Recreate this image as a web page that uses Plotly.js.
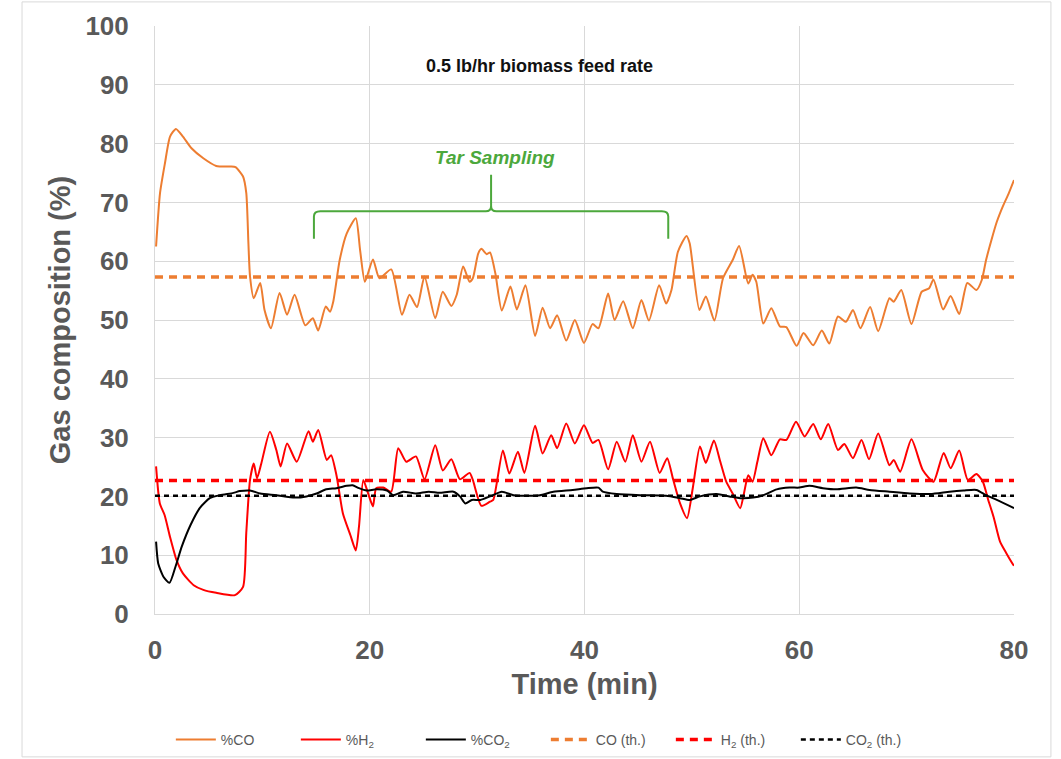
<!DOCTYPE html>
<html>
<head>
<meta charset="utf-8">
<script src="https://cdn.plot.ly/plotly-3.0.1.min.js"></script>
<style>html,body{margin:0;padding:0;background:#fff;}#chart{width:1061px;height:759px;}</style>
</head>
<body>
<div id="chart"></div>
<script>
// Time (min) and composition (%)
const coTime = [0.1,0.47,0.93,1.4,1.95,2.6,3.4,4.5,5.7,7.0,7.5,8.2,8.5,8.7,8.85,9.2,9.8,10.2,10.8,11.6,12.3,13.0,14.0,14.7,15.2,15.9,16.3,16.6,17.2,17.85,18.7,19.1,19.55,20.3,20.9,22.0,23.0,23.7,24.4,25.1,26.1,26.8,27.6,28.1,28.7,29.3,29.6,30.1,30.4,30.9,31.2,31.7,32.3,33.1,33.7,34.5,35.4,36.1,36.8,37.45,38.3,39.1,39.95,40.75,41.3,42.2,42.8,43.6,44.5,45.3,46.0,46.95,47.6,48.1,48.7,49.5,49.8,50.7,51.3,52.1,52.9,53.8,54.4,55.25,55.65,56.0,56.65,57.4,58.2,58.8,59.75,60.4,61.3,62.1,62.8,63.6,64.35,65.0,65.7,66.6,67.35,68.4,68.8,69.5,70.45,71.4,72.1,72.5,73.4,74.1,74.9,75.65,76.5,77.0,77.4,77.9,78.4,79.0,79.5,80];
const coValues = [62.5,71.6,76.7,81.2,82.5,81.2,79.2,77.5,76.2,76.1,76.0,74.4,71.6,63,57.4,53.7,56.3,51.7,48.6,54.6,50.9,54.3,49.1,50.3,48.2,52.3,51.4,53.1,60.2,64.7,67.3,61.9,56.5,60.3,57.1,58.6,50.9,54.3,52.2,57.4,50.3,54.8,52.4,54.3,59.1,56.5,57.1,61.3,62.1,61.2,61.5,57.9,51.6,55.7,51.8,55.9,47.3,52.1,48.6,50.8,46.5,50,46.1,49.3,48.6,54.5,50,53.2,48.6,53.4,49.9,55.9,52.8,55.1,61.6,64.3,63.0,51.7,54.0,49.9,57.1,60.2,62.6,56.2,57.7,56.5,49.4,52.0,48.9,48.8,45.6,47.8,45.7,48.2,46.0,50.6,49.7,51.7,48.6,52.2,48.1,53.7,53.1,55.1,49.3,54.8,55.4,56.9,51.8,54.1,51.0,56.3,55.1,56.8,60.2,63.6,66.7,69.5,71.5,73.8];

const h2Time = [0.1,0.45,0.9,1.4,2.0,2.6,3.6,4.5,5.7,7.45,8.2,8.5,8.85,9.2,9.5,9.9,10.7,11.3,11.7,12.3,13.2,14.3,14.7,15.2,16.0,16.4,16.9,17.5,18.2,18.7,19.0,19.4,19.85,20.3,20.6,21.25,22.0,22.65,23.4,24.3,25.1,26.1,26.8,27.6,28.4,29.3,29.6,30.4,31.2,31.5,32.4,33.0,33.8,34.4,35.4,36.1,36.9,37.45,38.3,39.1,39.95,40.75,41.3,42.2,43.0,43.8,44.5,45.3,46.1,47.0,47.7,48.25,48.9,49.55,50.1,50.75,51.3,52.05,52.6,53.2,53.8,54.5,54.85,55.25,55.65,56.1,56.65,57.4,58.2,58.8,59.7,60.5,61.3,62.0,62.7,63.6,64.2,65.0,65.8,66.5,67.35,68.4,68.8,69.4,70.45,71.5,72.5,73.45,74.1,74.9,75.7,76.5,77.1,77.6,78.1,78.7,79.3,79.85,80];
const h2Values = [25.1,18.8,16.8,13.1,9.2,6.9,4.9,4.1,3.6,3.2,4.6,13.8,22.8,25.6,23.1,25.6,31.0,27.9,25.1,29.0,25.9,31.1,29.3,31.3,26.2,27.0,23.6,17.1,13.4,10.8,14.9,22.8,20.5,18.3,21.4,21.5,20.8,28.2,25.9,26.8,22.9,28.7,24.4,26.3,22.9,24.0,22.8,18.4,19.1,19.4,27.8,23.9,27.6,24.0,32.0,27.3,30.4,28.2,32.4,29.0,32.1,29.1,29.6,24.6,29.3,25.9,30.4,25.9,29.3,24.0,26.5,22.9,18.8,16.3,21.6,28.5,25.7,29.5,26.2,22.5,20.5,18.0,20.5,23.6,22.5,25.9,29.9,27.0,29.7,29.6,32.7,30.2,32.3,29.7,32.3,27.9,28.9,26.5,29.6,26.3,30.7,25.3,26.2,24.2,29.7,24.5,22.5,27.4,24.8,27.8,22.8,23.8,22.5,19.4,16.5,12.3,10.3,8.6,8.2];

const co2Time = [0.1,0.3,0.8,1.35,1.9,2.5,3.3,4.2,5.1,6.05,7.3,7.9,8.85,9.8,11.3,13.0,14.1,15.05,15.95,16.9,17.85,18.4,19.0,19.7,20.6,21.6,22.2,23.1,24.3,25.5,26.5,27.8,28.4,28.9,29.5,30.3,31.2,32.3,33.4,34.6,35.85,37.1,38.9,40.2,41.3,41.7,43.0,45.2,47.6,48.9,49.8,50.75,52.3,53.5,54.5,55.7,56.65,57.9,59.1,60.0,60.95,62.2,63.45,65.3,66.55,68.4,70.3,72.2,74.0,75.3,76.5,77.4,78.4,80];
const co2Values = [12.3,8.6,6.3,5.3,8.0,11.5,15.1,18.1,19.7,20.2,20.6,20.9,21.0,20.5,20.2,19.8,20.0,20.5,21.2,21.4,21.8,21.9,21.4,21.0,21.2,21.0,20.2,20.8,20.5,20.8,20.6,20.8,20.0,18.8,19.4,19.4,20.0,20.8,20.2,20.1,20.2,20.8,21.1,21.4,21.5,20.8,20.4,20.2,20.1,19.7,19.4,20.0,20.4,20.0,19.7,19.8,20.2,21.2,21.5,21.5,21.8,21.4,21.2,21.5,21.1,20.8,20.5,20.4,20.8,21.0,21.1,20.2,19.4,18.0];

// Theoretical values
const thTime = [0, 80];
const coTheory = 57.3;
const h2Theory = 22.7;
const co2Theory = 20.1;

const seriesNames = ["%CO", "%H<sub>2</sub>", "%CO<sub>2</sub>", "CO (th.)", "H<sub>2</sub> (th.)", "CO<sub>2</sub> (th.)"];
const xTicks = [0, 20, 40, 60, 80];
const yTicks = [0,10,20,30,40,50,60,70,80,90,100];

const ORANGE = "#ED7D31", RED = "#FF0000", BLACK = "#000000";

const traces = [
  {x: coTime, y: coValues, name: seriesNames[0], mode: "lines", line: {color: ORANGE, width: 2, shape: "spline", smoothing: 0.6}},
  {x: h2Time, y: h2Values, name: seriesNames[1], mode: "lines", line: {color: RED, width: 2, shape: "spline", smoothing: 0.6}},
  {x: co2Time, y: co2Values, name: seriesNames[2], mode: "lines", line: {color: BLACK, width: 2, shape: "spline", smoothing: 0.6}},
  {x: thTime, y: thTime.map(() => coTheory), name: seriesNames[3], mode: "lines", line: {color: ORANGE, width: 3.5, dash: "8px,6px"}},
  {x: thTime, y: thTime.map(() => h2Theory), name: seriesNames[4], mode: "lines", line: {color: RED, width: 3.5, dash: "8px,6px"}},
  {x: thTime, y: thTime.map(() => co2Theory), name: seriesNames[5], mode: "lines", line: {color: BLACK, width: 2.5, dash: "5px,4px"}}
];

const GREEN = "#4CA83C";
const FONT = "Liberation Sans, Arial, sans-serif";
const layout = {
  width: 1061, height: 759,
  margin: {l: 155, r: 47, t: 26, b: 145, autoexpand: false},
  paper_bgcolor: "#ffffff", plot_bgcolor: "#ffffff",
  font: {family: FONT, color: "#595959"},
  showlegend: true,
  legend: {orientation: "h", x: 0.455, xanchor: "center", y: -0.214, yanchor: "middle",
           font: {size: 14, color: "#595959"}, itemwidth: 40, entrywidth: 70, entrywidthmode: "pixels"},
  xaxis: {range: [0, 80], tickvals: xTicks, ticktext: xTicks.map(v => "<b>" + v + "</b>"),
          showgrid: true, gridcolor: "#d9d9d9", gridwidth: 1, zeroline: false,
          showline: true, linecolor: "#d9d9d9", linewidth: 1, ticks: "", ticklabelstandoff: 13,
          automargin: false,
          tickfont: {size: 26, color: "#595959", family: FONT},
          title: {text: "<b>Time (min)</b>", font: {size: 29, color: "#595959"}, standoff: 9}},
  yaxis: {range: [0, 100], tickvals: yTicks, ticktext: yTicks.map(v => "<b>" + v + "</b>"),
          showgrid: true, gridcolor: "#d9d9d9", gridwidth: 1, zeroline: false,
          showline: true, linecolor: "#d9d9d9", linewidth: 1, ticks: "", ticklabelstandoff: 20,
          automargin: false,
          tickfont: {size: 26, color: "#595959", family: FONT},
          title: {text: "<b>Gas composition (%)</b>", font: {size: 29, color: "#595959"}, standoff: 6}},
  annotations: [
    {x: 35.8, y: 93.2, xref: "x", yref: "y", text: "<b>0.5 lb/hr biomass feed rate</b>", showarrow: false,
     font: {size: 18, color: "#111111"}},
    {x: 31.65, y: 77.6, xref: "x", yref: "y", text: "<b><i>Tar Sampling</i></b>", showarrow: false,
     font: {size: 19, color: GREEN}}
  ],
  shapes: [
    {type: "path", xref: "x", yref: "y",
     path: "M 14.8 63.8 L 14.8 67.6 Q 14.8 68.5 15.4 68.5 L 30.8 68.5 Q 31.3 68.5 31.3 69.4 L 31.3 74.7 M 31.3 69.4 Q 31.3 68.5 31.8 68.5 L 47.2 68.5 Q 47.8 68.5 47.8 67.6 L 47.8 63.8",
     line: {color: GREEN, width: 2}},
    {type: "rect", xref: "paper", yref: "paper", x0: -0.1548, x1: 1.043, y0: -0.243, y1: 1.041,
     line: {color: "#d9d9d9", width: 1}, layer: "below"}
  ]
};

Plotly.newPlot("chart", traces, layout, {displayModeBar: false, staticPlot: true});
</script>
</body>
</html>
